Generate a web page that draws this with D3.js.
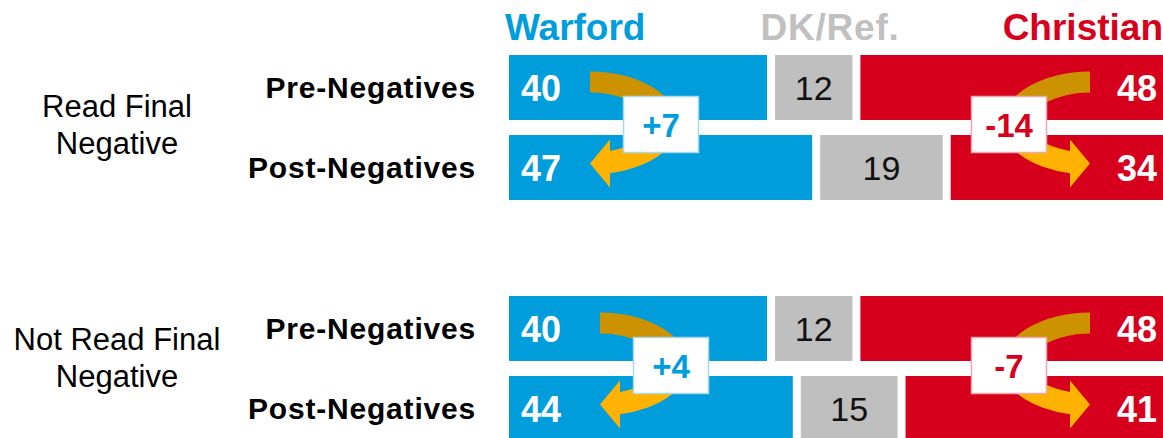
<!DOCTYPE html>
<html>
<head>
<meta charset="utf-8">
<script src="https://cdn.jsdelivr.net/npm/d3@7"></script>
<style>
  html, body { margin: 0; padding: 0; background: #fff; }
  svg { display: block; font-family: "Liberation Sans", Arial, sans-serif; }
</style>
</head>
<body>
<svg id="chart" width="1163" height="438"></svg>
<script>
// ---- data ----
const candidates = ["Warford", "DK/Ref.", "Christian"];
const groups = ["Read Final Negative", "Not Read Final Negative"];
const groupLines = [["Read Final", "Negative"], ["Not Read Final", "Negative"]];
const rows = ["Pre-Negatives", "Post-Negatives"];
const warford = [[40, 47], [40, 44]];
const dkRef = [[12, 19], [12, 15]];
const christian = [[48, 34], [48, 41]];

// ---- layout ----
const W = 1163, H = 438;
const x0 = 509, gap = 8;
const colors = { Warford: "#009ddc", "DK/Ref.": "#bfbfbf", Christian: "#d6001c" };
const arrowDark = "#cc9200", arrowLight = "#ffb300";

const svg = d3.select("#chart");
const x = d3.scaleLinear().domain([0, 100]).range([0, 645]);
const gy = d3.scaleOrdinal().domain(groups).range([55, 296]);
const ry = d3.scaleBand().domain(rows).range([0, 145]).paddingInner(15 / 80);
const bh = ry.bandwidth();

// headers
svg.append("text").attr("x", x0 - 4).attr("y", 40).attr("text-anchor", "start")
  .attr("font-size", 37).attr("font-weight", "bold").attr("fill", colors.Warford).text(candidates[0]);
svg.append("text").attr("x", 830).attr("y", 40).attr("text-anchor", "middle")
  .attr("font-size", 37).attr("font-weight", "bold").attr("letter-spacing", 0.8).attr("fill", "#c0c0c0").text(candidates[1]);
svg.append("text").attr("x", W).attr("y", 40).attr("text-anchor", "end")
  .attr("font-size", 37).attr("font-weight", "bold").attr("fill", colors.Christian).text(candidates[2]);

const labelDy = [62, 54];
const leftArrowOff = [81, 91];

// arrow shapes (local coords, pivot at flat end)
const topBand = "M0,-53 A88,53 0 0 1 88,0 L60,0 A60,32 0 0 0 0,-32 Z";
const bottomBand = "M88,0 A88,50 0 0 1 20,48.7 L20,63 L0,39 L20,15 L20,26.4 A60,28 0 0 0 60,0 Z";

groups.forEach((g, gi) => {
  const top = gy(g);
  const G = svg.append("g");

  // group label
  groupLines[gi].forEach((ln, li) => {
    G.append("text").attr("x", 117).attr("y", top + labelDy[gi] + li * 36.5)
      .attr("text-anchor", "middle").attr("font-size", 31).attr("fill", "#000").text(ln);
  });

  rows.forEach((r, ri) => {
    const y = top + ry(r);
    const w = warford[gi][ri], d = dkRef[gi][ri], c = christian[gi][ri];
    const xw = x0, xd = x0 + x(w) + gap, xc = xd + x(d) + gap;

    G.append("text").attr("x", 476).attr("y", y + bh / 2 + 10.5).attr("text-anchor", "end")
      .attr("font-size", 30).attr("font-weight", "bold").attr("letter-spacing", 0.8)
      .attr("fill", "#000").text(r);

    G.append("rect").attr("x", xw).attr("y", y).attr("width", x(w)).attr("height", bh).attr("fill", colors.Warford);
    G.append("rect").attr("x", xd).attr("y", y).attr("width", x(d)).attr("height", bh).attr("fill", colors["DK/Ref."]);
    G.append("rect").attr("x", xc).attr("y", y).attr("width", x(c)).attr("height", bh).attr("fill", colors.Christian);

    G.append("text").attr("x", xw + 12).attr("y", y + bh / 2 + 13)
      .attr("font-size", 36).attr("font-weight", "bold").attr("fill", "#fff").text(w);
    G.append("text").attr("x", xd + x(d) / 2).attr("y", y + bh / 2 + 12).attr("text-anchor", "middle")
      .attr("font-size", 34).attr("fill", "#111").text(d);
    G.append("text").attr("x", 1157).attr("y", y + bh / 2 + 13).attr("text-anchor", "end")
      .attr("font-size", 36).attr("font-weight", "bold").attr("fill", "#fff").text(c);
  });

  // arrows + change boxes
  const by = top + (ry(rows[0]) + bh + ry(rows[1])) / 2 - 3;
  const lpx = x0 + leftArrowOff[gi];
  const rpx = 1090;

  const la = G.append("g").attr("transform", `translate(${lpx},${by})`);
  la.append("path").attr("d", topBand).attr("fill", arrowDark);
  la.append("path").attr("d", bottomBand).attr("fill", arrowLight);
  const ra = G.append("g").attr("transform", `translate(${rpx},${by}) scale(-1,1)`);
  ra.append("path").attr("d", topBand).attr("fill", arrowDark);
  ra.append("path").attr("d", bottomBand).attr("fill", arrowLight);

  const wChange = warford[gi][1] - warford[gi][0];
  const cChange = christian[gi][1] - christian[gi][0];
  const fmt = v => (v > 0 ? "+" : "") + v;

  const boxes = [
    { cx: lpx + 71, txt: fmt(wChange), col: colors.Warford, stroke: "#a6d8f0" },
    { cx: rpx - 81, txt: fmt(cChange), col: colors.Christian, stroke: "#f0a6ae" }
  ];
  boxes.forEach(b => {
    G.append("rect").attr("x", b.cx - 37.5).attr("y", by - 28).attr("width", 75).attr("height", 56)
      .attr("fill", "#fff").attr("stroke", b.stroke).attr("stroke-width", 1.5);
    G.append("text").attr("x", b.cx).attr("y", by + 12).attr("text-anchor", "middle")
      .attr("font-size", 33).attr("font-weight", "bold").attr("fill", b.col).text(b.txt);
  });
});
</script>
</body>
</html>
